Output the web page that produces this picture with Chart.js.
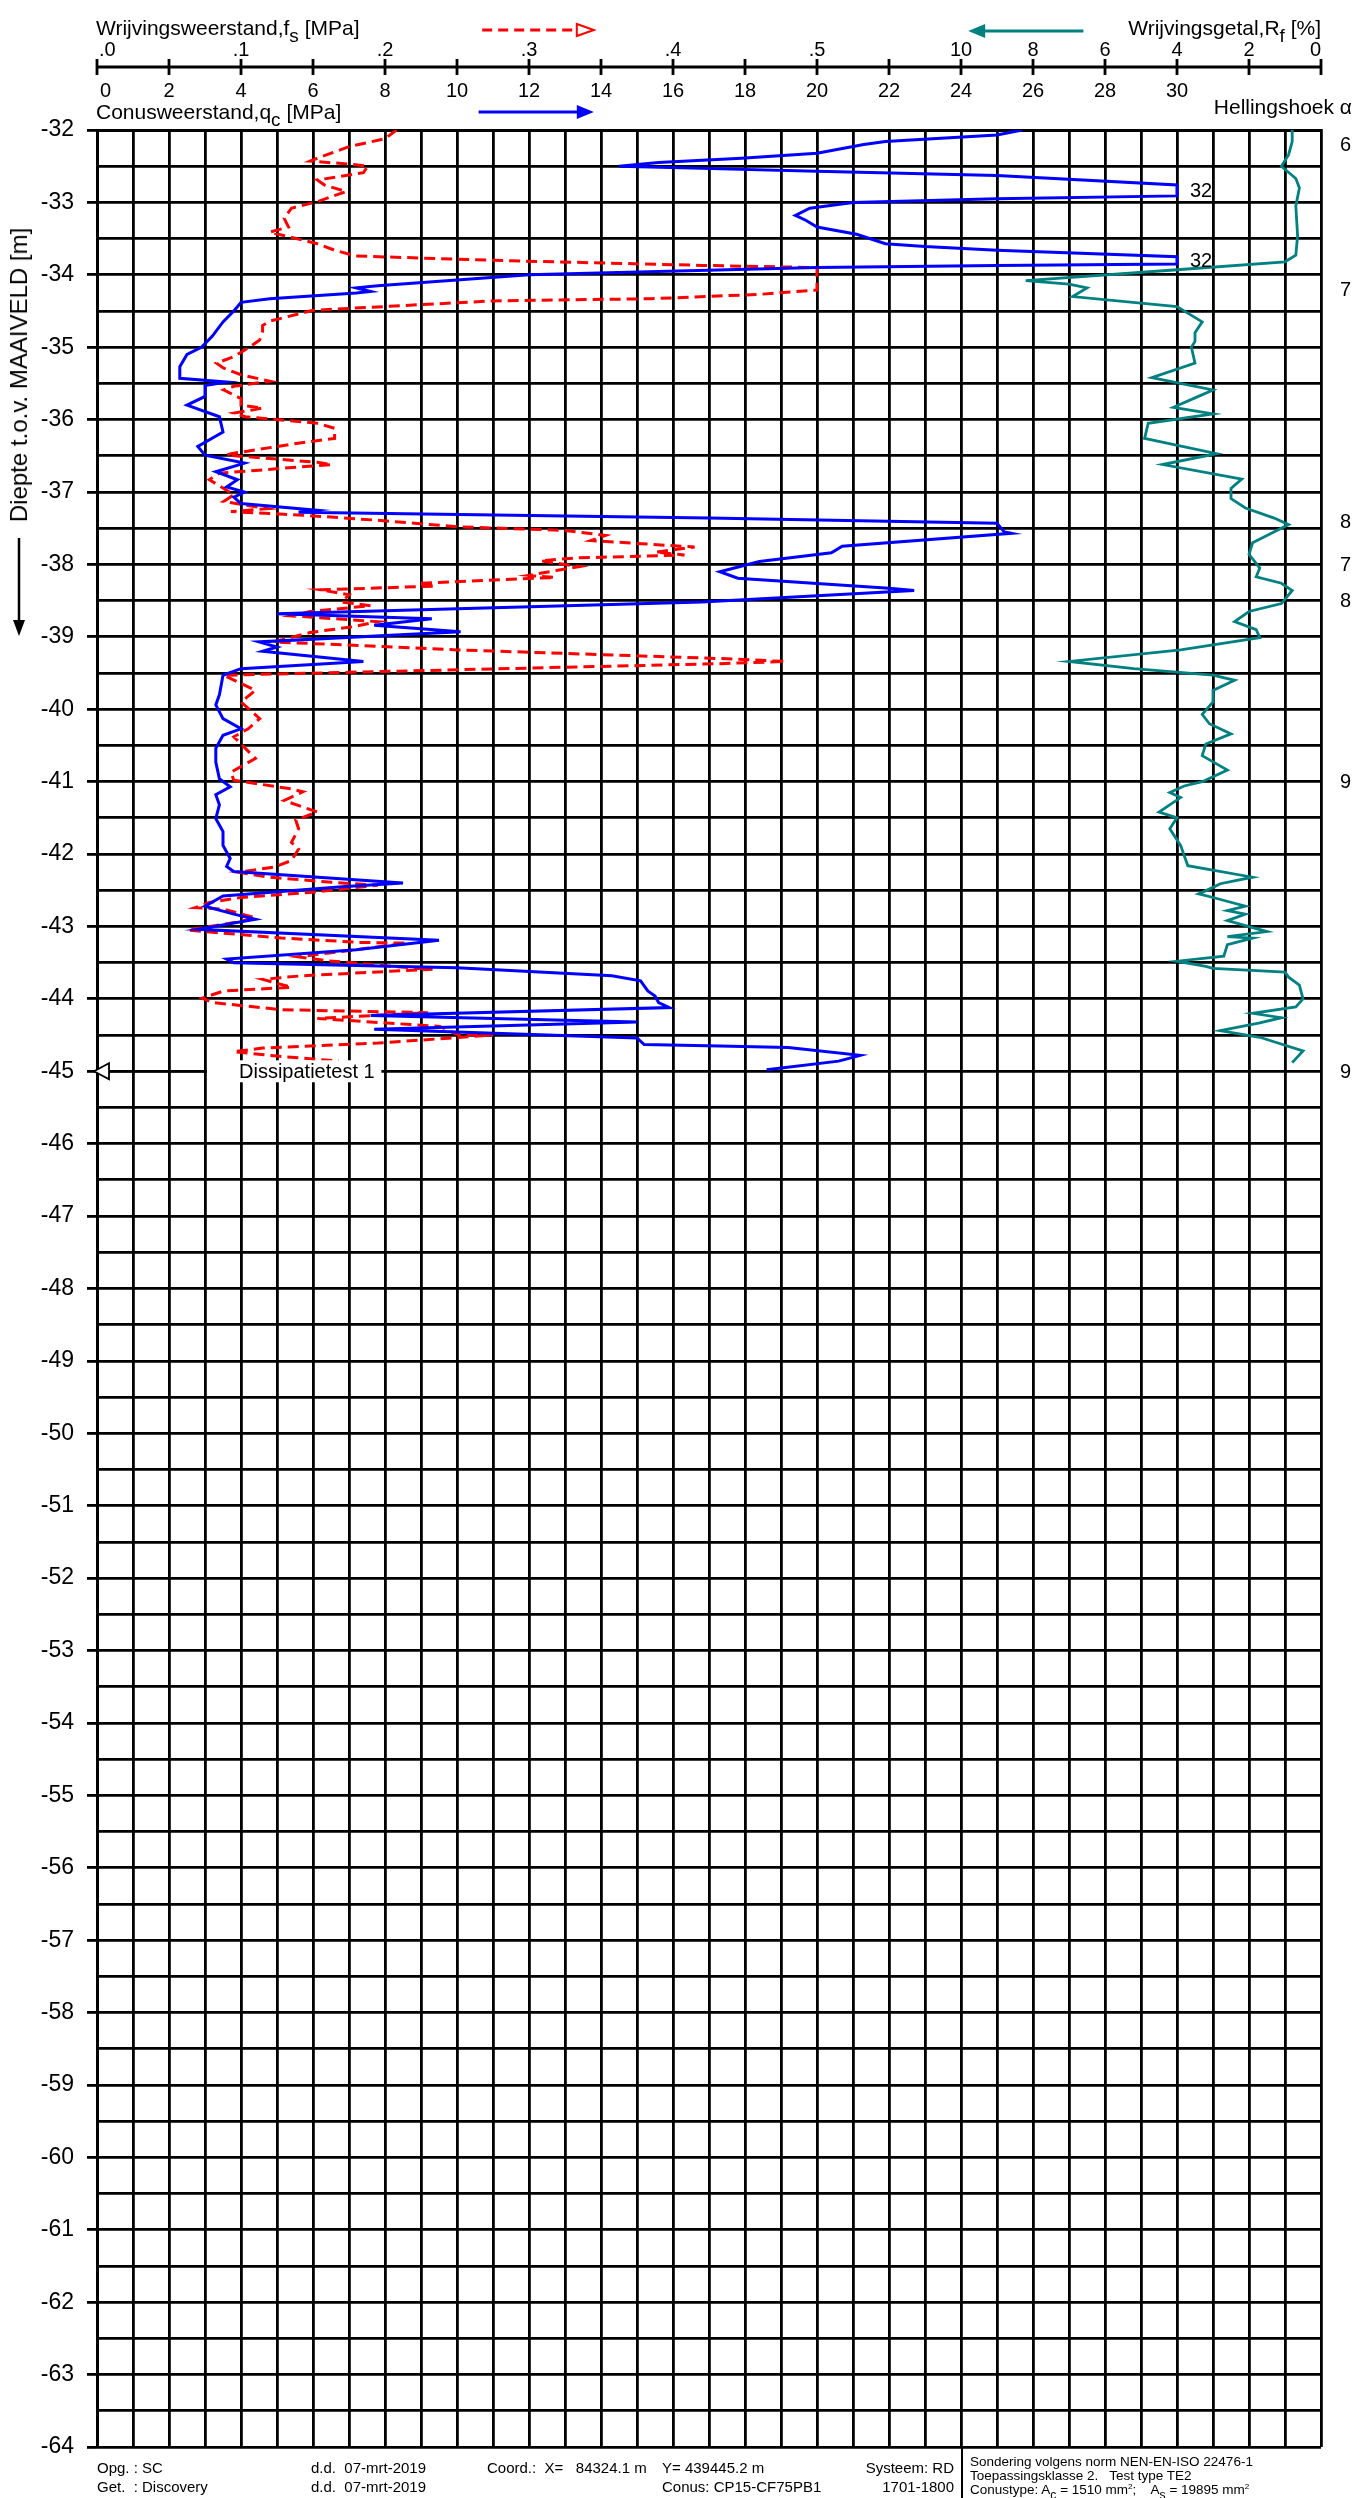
<!DOCTYPE html>
<html lang="nl">
<head>
<meta charset="utf-8">
<title>Sondering</title>
<script src="https://cdn.jsdelivr.net/npm/chart.js@4.4.1/dist/chart.umd.min.js"></script>
<style>
  html, body { margin: 0; padding: 0; background: #fff; }
  body { width: 1357px; height: 2498px; position: relative; overflow: hidden;
         font-family: "Liberation Sans", Arial, Helvetica, sans-serif; color: #000; }
  #chartBox { position: absolute; left: 0; top: 0; width: 1357px; height: 2498px; }
  .lbl { position: absolute; white-space: pre; line-height: 1; }
  .hd { font-size: 21px; }
  .yt { font-size: 24px; }
  .ft { font-size: 15px; }
  .ft2 { font-size: 13.5px; }
  sub { font-size: 90%; vertical-align: -0.38em; line-height: 0; }
  sup { font-size: 60%; vertical-align: 0.6em; line-height: 0; }
  .rot { transform: translate(-50%, -50%) rotate(-90deg); }
  .divider { position: absolute; left: 961px; top: 2447px; width: 2px; height: 51px; background: #000; }
</style>
</head>
<body>
<div id="chartBox"><canvas id="cptChart" width="1357" height="2498"></canvas></div>

<!-- kopteksten -->
<div class="lbl hd" style="left:96px; top:17px;">Wrijvingsweerstand,f<sub>s</sub> [MPa]</div>
<div class="lbl hd" style="left:96px; top:101px;">Conusweerstand,q<sub>c</sub> [MPa]</div>
<div class="lbl hd" style="right:36px; top:17px;">Wrijvingsgetal,R<sub>f</sub> [%]</div>
<div class="lbl hd" style="right:5px; top:96px;">Hellingshoek α</div>
<div class="lbl yt rot" style="left:19px; top:375px;">Diepte t.o.v. MAAIVELD [m]</div>

<!-- voettekst -->
<div class="lbl ft" style="left:97px; top:2460px;">Opg. : SC</div>
<div class="lbl ft" style="left:97px; top:2479px;">Get.  : Discovery</div>
<div class="lbl ft" style="left:311px; top:2460px;">d.d.  07-mrt-2019</div>
<div class="lbl ft" style="left:311px; top:2479px;">d.d.  07-mrt-2019</div>
<div class="lbl ft" style="left:487px; top:2460px;">Coord.:  X=   84324.1 m</div>
<div class="lbl ft" style="left:662px; top:2460px;">Y= 439445.2 m</div>
<div class="lbl ft" style="left:662px; top:2479px;">Conus: CP15-CF75PB1</div>
<div class="lbl ft" style="right:403px; top:2460px;">Systeem: RD</div>
<div class="lbl ft" style="right:403px; top:2479px;">1701-1800</div>
<div class="divider"></div>
<div class="lbl ft2" style="left:970px; top:2455px;">Sondering volgens norm NEN-EN-ISO 22476-1</div>
<div class="lbl ft2" style="left:970px; top:2469px;">Toepassingsklasse 2.   Test type TE2</div>
<div class="lbl ft2" style="left:970px; top:2483px;">Conustype: A<sub>c</sub> = 1510 mm<sup>2</sup>;    A<sub>s</sub> = 19895 mm<sup>2</sup></div>

<script>
// conusweerstand qc [MPa] per diepte [m] (boven 30 MPa afgekapt)
const qcProfile = [
  [-32.00, 25.7], [-32.07, 25.0], [-32.16, 21.9], [-32.20, 21.3], [-32.32, 20.0], [-32.39, 17.9],
  [-32.45, 15.6], [-32.50, 14.5], [-32.53, 16.8], [-32.57, 20.0], [-32.63, 25.0], [-32.76, 30.0],
  [-32.91, 30.0], [-32.95, 25.0], [-33.00, 21.0], [-33.08, 19.8], [-33.18, 19.4], [-33.25, 19.7],
  [-33.34, 20.0], [-33.44, 21.1], [-33.57, 21.9], [-33.61, 23.0], [-33.66, 25.0], [-33.75, 30.0],
  [-33.85, 30.0], [-33.87, 25.0], [-33.90, 20.0], [-34.00, 12.0], [-34.15, 7.8], [-34.18, 7.2],
  [-34.23, 7.6], [-34.25, 7.2], [-34.33, 4.8], [-34.38, 4.0], [-34.44, 3.9], [-34.50, 3.8],
  [-34.65, 3.5], [-34.85, 3.2], [-35.00, 2.9], [-35.10, 2.5], [-35.27, 2.3], [-35.43, 2.3],
  [-35.48, 3.6], [-35.53, 3.0], [-35.68, 3.0], [-35.80, 2.5], [-35.96, 3.4], [-36.17, 3.5],
  [-36.37, 2.8], [-36.49, 3.0], [-36.60, 4.1], [-36.72, 3.3], [-36.83, 3.9], [-36.93, 3.6],
  [-37.00, 4.1], [-37.07, 3.8], [-37.16, 4.0], [-37.25, 6.1], [-37.28, 5.6], [-37.36, 17.0],
  [-37.43, 25.0], [-37.55, 25.2], [-37.57, 25.4], [-37.75, 20.7], [-37.84, 20.4], [-37.96, 18.4],
  [-38.10, 17.3], [-38.19, 17.8], [-38.33, 22.0], [-38.36, 22.7], [-38.52, 16.8], [-38.68, 5.0],
  [-38.75, 9.3], [-38.84, 7.7], [-38.93, 10.1], [-39.07, 4.5], [-39.14, 5.0], [-39.20, 4.6],
  [-39.34, 7.4], [-39.44, 4.0], [-39.53, 3.5], [-39.80, 3.4], [-39.94, 3.3], [-40.13, 3.5],
  [-40.27, 4.0], [-40.36, 3.5], [-40.54, 3.3], [-40.73, 3.3], [-40.96, 3.4], [-41.07, 3.7],
  [-41.18, 3.3], [-41.32, 3.4], [-41.51, 3.3], [-41.69, 3.5], [-41.88, 3.5], [-42.06, 3.7],
  [-42.17, 3.6], [-42.24, 3.8], [-42.40, 8.5], [-42.45, 6.8], [-42.58, 3.5], [-42.72, 3.0],
  [-42.83, 3.8], [-42.90, 4.4], [-43.04, 2.8], [-43.19, 9.5], [-43.32, 7.2], [-43.45, 3.6],
  [-43.50, 3.8], [-43.57, 10.0], [-43.68, 14.3], [-43.75, 15.1], [-43.89, 15.3], [-43.96, 15.5],
  [-44.05, 15.6], [-44.12, 15.9], [-44.23, 7.6], [-44.32, 15.0], [-44.42, 7.7], [-44.54, 15.0],
  [-44.63, 15.2], [-44.65, 17.3], [-44.67, 19.2], [-44.78, 21.2], [-44.86, 20.6], [-44.98, 18.6]
];

// wrijvingsweerstand fs [MPa] per diepte [m] (boven 0.5 MPa afgekapt)
const fsProfile = [
  [-32.00, 0.208], [-32.12, 0.200], [-32.23, 0.175], [-32.39, 0.153], [-32.43, 0.148], [-32.47, 0.175],
  [-32.50, 0.188], [-32.59, 0.185], [-32.69, 0.153], [-32.76, 0.158], [-32.85, 0.173], [-32.99, 0.153],
  [-33.08, 0.135], [-33.22, 0.130], [-33.34, 0.133], [-33.41, 0.120], [-33.45, 0.128], [-33.57, 0.153],
  [-33.66, 0.165], [-33.74, 0.180], [-33.80, 0.275], [-33.87, 0.420], [-33.90, 0.500], [-34.21, 0.500],
  [-34.27, 0.460], [-34.33, 0.385], [-34.36, 0.275], [-34.49, 0.150], [-34.64, 0.120], [-34.70, 0.115],
  [-34.78, 0.115], [-34.90, 0.113], [-35.01, 0.105], [-35.13, 0.095], [-35.22, 0.083], [-35.29, 0.088],
  [-35.38, 0.100], [-35.47, 0.120], [-35.54, 0.095], [-35.59, 0.088], [-35.71, 0.100], [-35.80, 0.100],
  [-35.84, 0.115], [-35.91, 0.095], [-35.96, 0.103], [-36.05, 0.153], [-36.12, 0.165], [-36.26, 0.165],
  [-36.31, 0.145], [-36.47, 0.093], [-36.49, 0.090], [-36.59, 0.153], [-36.62, 0.163], [-36.74, 0.085],
  [-36.83, 0.078], [-36.95, 0.088], [-37.04, 0.095], [-37.13, 0.088], [-37.23, 0.118], [-37.27, 0.093],
  [-37.32, 0.143], [-37.39, 0.195], [-37.48, 0.250], [-37.53, 0.325], [-37.60, 0.353], [-37.67, 0.343],
  [-37.76, 0.415], [-37.83, 0.388], [-37.87, 0.408], [-37.91, 0.333], [-37.95, 0.308], [-38.03, 0.335],
  [-38.08, 0.320], [-38.15, 0.300], [-38.18, 0.318], [-38.26, 0.223], [-38.30, 0.235], [-38.35, 0.155],
  [-38.42, 0.175], [-38.52, 0.170], [-38.57, 0.190], [-38.65, 0.148], [-38.71, 0.135], [-38.79, 0.195],
  [-38.86, 0.178], [-38.94, 0.148], [-39.07, 0.123], [-39.18, 0.250], [-39.30, 0.433], [-39.34, 0.478],
  [-39.37, 0.433], [-39.53, 0.088], [-39.74, 0.110], [-39.90, 0.100], [-40.13, 0.113], [-40.27, 0.105],
  [-40.38, 0.095], [-40.68, 0.110], [-40.87, 0.093], [-40.98, 0.095], [-41.10, 0.135], [-41.14, 0.143],
  [-41.26, 0.130], [-41.42, 0.153], [-41.53, 0.138], [-41.65, 0.140], [-41.84, 0.135], [-41.93, 0.140],
  [-42.09, 0.135], [-42.18, 0.123], [-42.25, 0.098], [-42.32, 0.120], [-42.39, 0.163], [-42.43, 0.195],
  [-42.53, 0.148], [-42.60, 0.100], [-42.67, 0.078], [-42.74, 0.068], [-42.76, 0.088], [-42.88, 0.110],
  [-42.93, 0.100], [-43.05, 0.063], [-43.16, 0.128], [-43.22, 0.183], [-43.23, 0.215], [-43.32, 0.180],
  [-43.42, 0.140], [-43.47, 0.158], [-43.58, 0.223], [-43.59, 0.233], [-43.68, 0.143], [-43.73, 0.115],
  [-43.84, 0.135], [-43.89, 0.088], [-43.99, 0.073], [-44.05, 0.080], [-44.15, 0.128], [-44.19, 0.230],
  [-44.27, 0.153], [-44.31, 0.183], [-44.38, 0.238], [-44.49, 0.250], [-44.50, 0.275], [-44.61, 0.195],
  [-44.68, 0.115], [-44.73, 0.095], [-44.79, 0.125], [-44.86, 0.168]
];

// wrijvingsgetal Rf [%] per diepte [m]
const rfProfile = [
  [-32.00, 0.8], [-32.16, 0.8], [-32.34, 0.9], [-32.50, 1.1], [-32.67, 0.7], [-32.80, 0.6],
  [-33.05, 0.7], [-33.46, 0.65], [-33.73, 0.7], [-33.82, 1.0], [-33.93, 4.0], [-34.08, 8.2],
  [-34.13, 7.0], [-34.18, 6.5], [-34.30, 6.9], [-34.44, 4.0], [-34.65, 3.3], [-34.80, 3.5],
  [-34.92, 3.5], [-35.00, 3.6], [-35.22, 3.5], [-35.42, 4.7], [-35.59, 3.0], [-35.70, 3.5],
  [-35.83, 4.1], [-35.92, 3.0], [-36.05, 4.8], [-36.26, 4.9], [-36.47, 2.9], [-36.62, 4.4],
  [-36.82, 2.2], [-36.95, 2.5], [-37.09, 2.5], [-37.22, 2.1], [-37.36, 1.3], [-37.45, 0.9],
  [-37.70, 1.9], [-37.86, 2.0], [-38.05, 1.7], [-38.17, 1.8], [-38.26, 1.1], [-38.36, 0.8],
  [-38.54, 1.1], [-38.65, 2.0], [-38.79, 2.4], [-38.90, 1.8], [-39.01, 1.7], [-39.18, 3.9],
  [-39.34, 7.0], [-39.44, 5.2], [-39.53, 3.0], [-39.60, 2.4], [-39.74, 3.0], [-39.90, 3.0],
  [-40.07, 3.3], [-40.20, 3.1], [-40.34, 2.5], [-40.48, 3.2], [-40.64, 3.3], [-40.84, 2.6],
  [-41.00, 3.3], [-41.06, 3.8], [-41.15, 4.2], [-41.22, 3.9], [-41.42, 4.5], [-41.50, 4.0],
  [-41.65, 4.2], [-41.88, 3.9], [-42.02, 3.8], [-42.16, 3.7], [-42.32, 1.9], [-42.41, 2.8],
  [-42.46, 3.0], [-42.55, 3.4], [-42.60, 3.0], [-42.72, 2.1], [-42.78, 2.6], [-42.83, 2.1],
  [-42.92, 2.6], [-43.07, 1.5], [-43.14, 2.6], [-43.16, 1.9], [-43.25, 2.6], [-43.41, 2.7],
  [-43.48, 4.0], [-43.55, 3.2], [-43.58, 3.0], [-43.63, 1.0], [-43.70, 0.9], [-43.81, 0.6],
  [-44.00, 0.5], [-44.11, 0.7], [-44.20, 1.9], [-44.26, 1.1], [-44.33, 1.7], [-44.44, 2.8],
  [-44.53, 1.7], [-44.72, 0.5], [-44.88, 0.8]
];

// asverdeling
const qcTicks = [0, 2, 4, 6, 8, 10, 12, 14, 16, 18, 20, 22, 24, 26, 28, 30];
const fsTicks = [0, 0.1, 0.2, 0.3, 0.4, 0.5];
const fsTickLabels = ['.0', '.1', '.2', '.3', '.4', '.5'];
const rfTicks = [10, 8, 6, 4, 2, 0];
const tickMarks = [0, 2, 4, 6, 8, 10, 12, 14, 16, 18, 20, 22, 24, 26, 28, 30, 32, 34];

// hellingshoek en bijschriften
const alphaDepths = [-32.2, -34.2, -37.4, -38.0, -38.5, -41.0, -45.0];
const alphaValues = [6, 7, 8, 7, 8, 9, 9];
const qcPeakDepths = [-32.83, -33.80];
const qcPeakValues = [32, 32];
const dissDepth = -45.0;
const dissLabel = 'Dissipatietest 1';

const FONT = '"Liberation Sans", Arial, Helvetica, sans-serif';
Chart.defaults.font.family = FONT;
Chart.defaults.color = '#000';

const AXIS_Y = 67;

function arrowHead(ctx, tipX, tipY, dx, dy, half, fill) {
  // driehoek met punt (tipX,tipY), richting (dx,dy)
  const bx = tipX - dx, by = tipY - dy;
  const len = Math.hypot(dx, dy);
  const nx = -dy / len * half, ny = dx / len * half;
  ctx.beginPath();
  ctx.moveTo(tipX, tipY);
  ctx.lineTo(bx + nx, by + ny);
  ctx.lineTo(bx - nx, by - ny);
  ctx.closePath();
  if (fill) { ctx.fill(); } else { ctx.fillStyle = '#fff'; ctx.fill(); ctx.stroke(); }
}

const decorPlugin = {
  id: 'decor',
  afterDatasetsDraw(chart) {
    const { ctx, chartArea, scales } = chart;
    const xq = scales.x, y = scales.y;
    ctx.save();

    // dissipatietest
    const yd = y.getPixelForValue(dissDepth);
    ctx.fillStyle = '#fff';
    ctx.fillRect(xq.getPixelForValue(3) + 2, yd - 11, xq.getPixelForValue(7.9) - xq.getPixelForValue(3) - 2, 22);
    ctx.strokeStyle = '#000';
    ctx.lineWidth = 2.6;
    ctx.beginPath();
    ctx.moveTo(chartArea.left, yd);
    ctx.lineTo(xq.getPixelForValue(3) + 2, yd);
    ctx.stroke();
    ctx.lineWidth = 1.8;
    arrowHead(ctx, chartArea.left - 3, yd, -15, 0, 8, false);
    ctx.fillStyle = '#000';
    ctx.font = '20px ' + FONT;
    ctx.textAlign = 'left';
    ctx.textBaseline = 'middle';
    ctx.fillText(dissLabel, xq.getPixelForValue(4) - 2, yd + 1);

    // afgekapte pieken qc
    qcPeakDepths.forEach((d, i) => {
      ctx.fillText(String(qcPeakValues[i]), xq.getPixelForValue(30) + 13, y.getPixelForValue(d) + 1);
    });

    // hellingshoek
    alphaDepths.forEach((d, i) => {
      ctx.fillText(String(alphaValues[i]), chartArea.right + 19, y.getPixelForValue(d) + 1);
    });
    ctx.restore();
  },
  afterDraw(chart) {
    const { ctx, scales } = chart;
    const xq = scales.x, xf = scales.xf, xr = scales.xr;
    ctx.save();
    ctx.strokeStyle = '#000';
    ctx.fillStyle = '#000';
    ctx.lineWidth = 2.8;

    // bovenas
    ctx.beginPath();
    ctx.moveTo(xq.getPixelForValue(0), AXIS_Y);
    ctx.lineTo(xq.getPixelForValue(34), AXIS_Y);
    ctx.stroke();
    tickMarks.forEach(v => {
      const px = xq.getPixelForValue(v);
      ctx.beginPath();
      ctx.moveTo(px, AXIS_Y - 8);
      ctx.lineTo(px, AXIS_Y + 8);
      ctx.stroke();
    });

    ctx.font = '20px ' + FONT;
    ctx.textBaseline = 'middle';
    fsTicks.forEach((v, i) => {
      ctx.textAlign = i === 0 ? 'left' : 'center';
      ctx.fillText(fsTickLabels[i], xf.getPixelForValue(v) + (i === 0 ? 2 : 0), 50);
    });
    rfTicks.forEach((v, i) => {
      ctx.textAlign = i === rfTicks.length - 1 ? 'right' : 'center';
      ctx.fillText(String(v), xr.getPixelForValue(v), 50);
    });
    qcTicks.forEach((v, i) => {
      ctx.textAlign = i === 0 ? 'left' : 'center';
      ctx.fillText(String(v), xq.getPixelForValue(v) + (i === 0 ? 3 : 0), 91);
    });

    // pijlen bij de astitels
    ctx.lineWidth = 3;
    ctx.strokeStyle = '#ff0000';
    ctx.setLineDash([10, 6]);
    ctx.beginPath();
    ctx.moveTo(xq.getPixelForValue(10.7), 30);
    ctx.lineTo(xq.getPixelForValue(13.3), 30);
    ctx.stroke();
    ctx.setLineDash([]);
    ctx.lineWidth = 2;
    arrowHead(ctx, xq.getPixelForValue(13.8), 30, 17, 0, 6, false);

    ctx.lineWidth = 3;
    ctx.strokeStyle = '#0000ff';
    ctx.fillStyle = '#0000ff';
    ctx.beginPath();
    ctx.moveTo(xq.getPixelForValue(10.6), 112);
    ctx.lineTo(xq.getPixelForValue(13.4), 112);
    ctx.stroke();
    arrowHead(ctx, xq.getPixelForValue(13.8), 112, 17, 0, 7, true);

    ctx.strokeStyle = '#008080';
    ctx.fillStyle = '#008080';
    ctx.beginPath();
    ctx.moveTo(xq.getPixelForValue(27.4), 31);
    ctx.lineTo(xq.getPixelForValue(24.6), 31);
    ctx.stroke();
    arrowHead(ctx, xq.getPixelForValue(24.2), 31, -17, 0, 7, true);

    // pijl bij diepte-as
    ctx.strokeStyle = '#000';
    ctx.fillStyle = '#000';
    ctx.lineWidth = 2.5;
    ctx.beginPath();
    ctx.moveTo(19, 538);
    ctx.lineTo(19, 622);
    ctx.stroke();
    arrowHead(ctx, 19, 636, 0, 16, 6, true);
    ctx.restore();
  }
};

function isWhole(v) { return Math.abs(v - Math.round(v)) < 1e-6; }

document.addEventListener('DOMContentLoaded', function() {
  const ctx = document.getElementById('cptChart').getContext('2d');
  const cptChart = new Chart(ctx, {
    type: 'scatter',
    data: {
      datasets: [{
        label: 'Conusweerstand',
        data: qcProfile.map(p => ({ x: p[1], y: p[0] })),
        xAxisID: 'x',
        yAxisID: 'y',
        showLine: true,
        borderColor: '#0000ff',
        borderWidth: 3,
        pointRadius: 0,
        fill: false
      },
      {
        label: 'Wrijvingsweerstand',
        data: fsProfile.map(p => ({ x: p[1], y: p[0] })),
        xAxisID: 'xf',
        yAxisID: 'y',
        showLine: true,
        borderColor: '#ff0000',
        borderWidth: 3,
        borderDash: [11, 6],
        pointRadius: 0,
        fill: false
      },
      {
        label: 'Wrijvingsgetal',
        data: rfProfile.map(p => ({ x: p[1], y: p[0] })),
        xAxisID: 'xr',
        yAxisID: 'y',
        showLine: true,
        borderColor: '#008080',
        borderWidth: 2.8,
        pointRadius: 0,
        fill: false
      }]
    },
    options: {
      responsive: false,
      animation: false,
      devicePixelRatio: 1,
      layout: { padding: { left: 0, top: 130, right: 36, bottom: 51 } },
      plugins: { legend: { display: false }, tooltip: { enabled: false } },
      scales: {
        x: {
          type: 'linear',
          position: 'top',
          min: 0,
          max: 34,
          grid: { color: '#000', lineWidth: 2.8, drawTicks: false },
          border: { color: '#000', width: 3 },
          ticks: { display: false, stepSize: 1, autoSkip: false, maxTicksLimit: 100 },
          afterFit: s => { s.height = 0; }
        },
        xf: {
          type: 'linear',
          display: false,
          min: 0,
          max: 0.85
        },
        xr: {
          type: 'linear',
          display: false,
          min: 0,
          max: 34,
          reverse: true
        },
        y: {
          type: 'linear',
          min: -64,
          max: -32,
          grid: {
            color: '#000',
            lineWidth: 2.8,
            tickLength: 10,
            tickColor: c => isWhole(c.tick.value) ? '#000' : 'rgba(0,0,0,0)'
          },
          border: { color: '#000', width: 3 },
          ticks: {
            stepSize: 0.5,
            autoSkip: false,
            maxTicksLimit: 100,
            padding: 13,
            font: { size: 23 },
            color: '#000',
            callback: v => isWhole(v) ? String(Math.round(v)) : ''
          },
          afterFit: s => { s.width = 97; }
        }
      }
    },
    plugins: [decorPlugin]
  });
});
</script>
</body>
</html>
